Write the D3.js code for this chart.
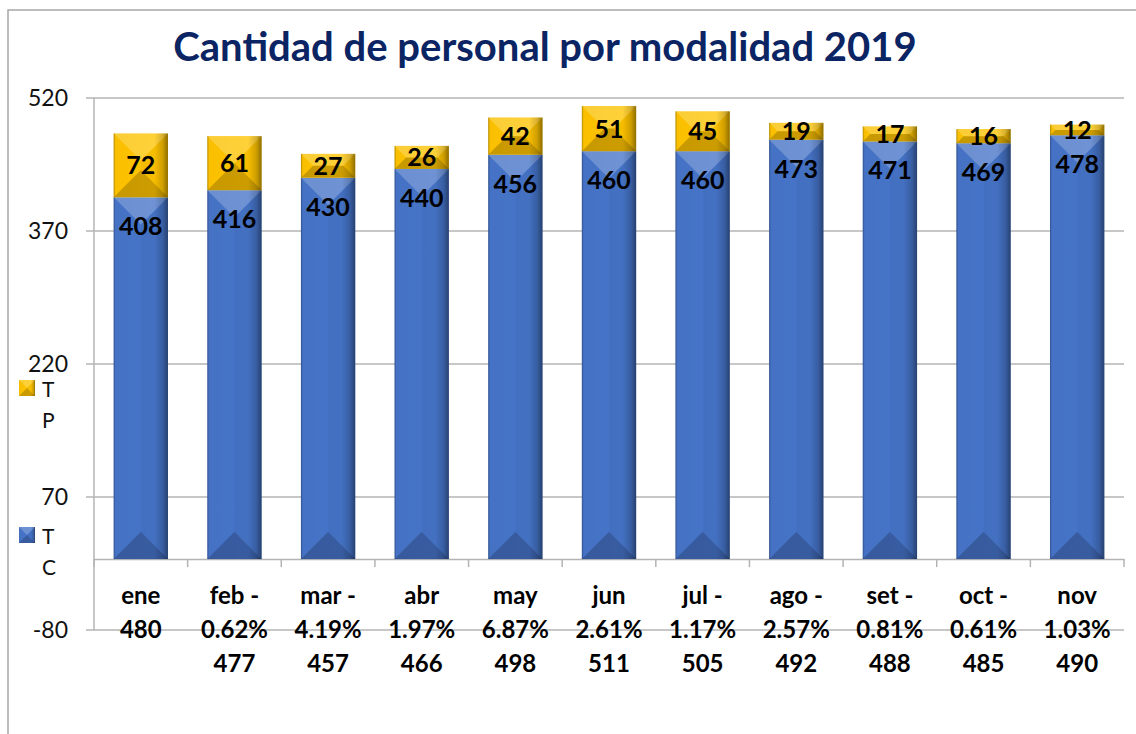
<!DOCTYPE html>
<html>
<head>
<meta charset="utf-8">
<script src="https://cdn.jsdelivr.net/npm/d3@7"></script>
<style>
  html, body { margin: 0; padding: 0; background: #fff; }
  svg { display: block; font-family: Lato, "Open Sans", sans-serif; }
</style>
</head>
<body>
<div id="chart"></div>
<script>
// data
var months = ["ene", "feb", "mar", "abr", "may", "jun", "jul", "ago", "set", "oct", "nov"];
var tcValues = [408, 416, 430, 440, 456, 460, 460, 473, 471, 469, 478];
var tpValues = [72, 61, 27, 26, 42, 51, 45, 19, 17, 16, 12];
var changes = [null, -0.62, -4.19, 1.97, 6.87, 2.61, -1.17, -2.57, -0.81, -0.61, 1.03];
var yTicks = [-80, 70, 220, 370, 520];
var seriesNames = ["TP", "TC"];

var chart = (function() {
    "use strict";
    var module = {};

    var width = 1136, height = 734;
    var colors = { TC: "#4674C8", TP: "#FFC400" };

    var svg = d3.select("#chart")
        .append("svg")
        .attr("width", width)
        .attr("height", height);

    var defs = svg.append("defs");
    var grad = defs.append("linearGradient")
        .attr("id", "sideShade")
        .attr("x1", 0).attr("x2", 1).attr("y1", 0).attr("y2", 0);
    [[0, 0.3], [0.035, 0.02], [0.75, 0], [0.9, 0.16], [1, 0.42]].forEach(function(s) {
        grad.append("stop")
            .attr("offset", s[0])
            .attr("stop-color", "#000")
            .attr("stop-opacity", s[1]);
    });

    var x = d3.scaleBand()
        .domain(months)
        .range([94, 1124])
        .paddingInner(0.42)
        .paddingOuter(0.21);

    var y = d3.scaleLinear()
        .domain([-80, 520])
        .range([630, 98]);

    function drawFrame() {
        svg.append("path")
            .attr("d", "M8," + height + "V10H" + width)
            .attr("fill", "none")
            .attr("stroke", "#A6A6A6")
            .attr("stroke-width", 1.5);

        svg.append("text")
            .attr("x", 545)
            .attr("y", 61)
            .attr("text-anchor", "middle")
            .attr("fill", "#0B2463")
            .style("font-size", "40px")
            .style("font-weight", "bold")
            .text("Cantidad de personal por modalidad 2019");
    }

    function drawAxes() {
        var grid = svg.append("g").attr("class", "grid");
        grid.selectAll("line")
            .data(yTicks)
            .enter()
            .append("line")
            .attr("x1", 86)
            .attr("x2", x.range()[1])
            .attr("y1", function(d) { return y(d); })
            .attr("y2", function(d) { return y(d); })
            .attr("stroke", "#B4B4B4")
            .attr("stroke-width", 1.5);

        grid.selectAll("text")
            .data(yTicks)
            .enter()
            .append("text")
            .attr("x", 68)
            .attr("y", function(d) { return y(d); })
            .attr("dy", "0.36em")
            .attr("text-anchor", "end")
            .style("font-size", "23px")
            .attr("fill", "#111")
            .text(function(d) { return d; });

        // value axis line
        svg.append("line")
            .attr("x1", x.range()[0]).attr("x2", x.range()[0])
            .attr("y1", y(520)).attr("y2", y(-80))
            .attr("stroke", "#B4B4B4")
            .attr("stroke-width", 1.5);

        // category axis at zero
        var xAxis = d3.axisBottom(x)
            .tickSize(0)
            .tickFormat("");
        var gx = svg.append("g")
            .attr("transform", "translate(0," + y(0) + ")")
            .call(xAxis);
        gx.select(".domain")
            .attr("stroke", "#B4B4B4")
            .attr("stroke-width", 1.5);
        var step = x.step();
        gx.selectAll(".sep")
            .data(d3.range(months.length + 1))
            .enter()
            .append("line")
            .attr("class", "sep")
            .attr("x1", function(i) { return x.range()[0] + i * step; })
            .attr("x2", function(i) { return x.range()[0] + i * step; })
            .attr("y1", 0)
            .attr("y2", 8)
            .attr("stroke", "#B4B4B4")
            .attr("stroke-width", 1.5);
    }

    function bevel(g, x0, y0, w, h, color) {
        var b = Math.min(w / 2, h / 2, 27);
        g.append("rect")
            .attr("x", x0).attr("y", y0)
            .attr("width", w).attr("height", h)
            .attr("fill", color);
        var polys = [
            { p: [[x0, y0], [x0 + w, y0], [x0 + w - b, y0 + b], [x0 + b, y0 + b]], c: "#fff", o: 0.22 },
            { p: [[x0, y0 + h], [x0 + w, y0 + h], [x0 + w - b, y0 + h - b], [x0 + b, y0 + h - b]], c: "#000", o: 0.2 },
            { p: [[x0 + w, y0], [x0 + w - b, y0 + b], [x0 + w - b, y0 + h - b], [x0 + w, y0 + h]], c: "#000", o: 0.03 }
        ];
        g.selectAll(null)
            .data(polys)
            .enter()
            .append("polygon")
            .attr("points", function(d) { return d.p.join(" "); })
            .attr("fill", function(d) { return d.c; })
            .attr("fill-opacity", function(d) { return d.o; });
        g.append("rect")
            .attr("x", x0).attr("y", y0)
            .attr("width", w).attr("height", h)
            .attr("fill", "url(#sideShade)");
    }

    function drawBars() {
        var rows = months.map(function(m, i) {
            return { month: m, tc: tcValues[i], tp: tpValues[i] };
        });
        var stacked = d3.stack().keys(["tc", "tp"])(rows);
        var layer = svg.append("g").attr("class", "bars");
        stacked.forEach(function(series) {
            var color = series.key === "tc" ? colors.TC : colors.TP;
            series.forEach(function(d) {
                var g = layer.append("g");
                bevel(g, x(d.data.month), y(d[1]), x.bandwidth(), y(d[0]) - y(d[1]), color);
            });
        });

        // labels
        var lab = svg.append("g")
            .style("font-size", "25px")
            .style("font-weight", "bold")
            .attr("text-anchor", "middle")
            .attr("fill", "#000");
        stacked[0].forEach(function(d) {
            lab.append("text")
                .attr("x", x(d.data.month) + x.bandwidth() / 2)
                .attr("y", y(d[1]) + 29)
                .attr("dy", "0.36em")
                .text(d.data.tc);
        });
        stacked[1].forEach(function(d) {
            lab.append("text")
                .attr("x", x(d.data.month) + x.bandwidth() / 2)
                .attr("y", (y(d[0]) + y(d[1])) / 2)
                .attr("dy", "0.36em")
                .text(d.data.tp);
        });
    }

    function drawCategoryLabels() {
        var g = svg.append("g")
            .style("font-size", "24px")
            .style("font-weight", "bold")
            .attr("text-anchor", "middle")
            .attr("fill", "#000");
        months.forEach(function(m, i) {
            var c = changes[i];
            var lines;
            if (c === null) {
                lines = [m, String(tcValues[i] + tpValues[i])];
            } else {
                lines = [m + (c < 0 ? " -" : ""), Math.abs(c).toFixed(2) + "%", String(tcValues[i] + tpValues[i])];
            }
            var t = g.append("text")
                .attr("x", x(m) + x.bandwidth() / 2)
                .attr("y", 604);
            lines.forEach(function(line, k) {
                t.append("tspan")
                    .attr("x", x(m) + x.bandwidth() / 2)
                    .attr("y", 604 + k * 34)
                    .text(line);
            });
        });
    }

    function drawLegend() {
        var items = [
            { name: seriesNames[0], color: colors.TP, y: 380 },
            { name: seriesNames[1], color: colors.TC, y: 527 }
        ];
        items.forEach(function(it) {
            var g = svg.append("g");
            bevel(g, 19, it.y, 16, 16, it.color);
            g.append("text")
                .attr("x", 42)
                .attr("y", it.y + 17)
                .style("font-size", "21px")
                .attr("fill", "#111")
                .text(it.name.charAt(0));
            g.append("text")
                .attr("x", 42)
                .attr("y", it.y + 48)
                .style("font-size", "21px")
                .attr("fill", "#111")
                .text(it.name.charAt(1));
        });
    }

    module.render = function() {
        drawFrame();
        drawAxes();
        drawBars();
        drawCategoryLabels();
        drawLegend();
    };

    return module;
})();

chart.render();
</script>
</body>
</html>
